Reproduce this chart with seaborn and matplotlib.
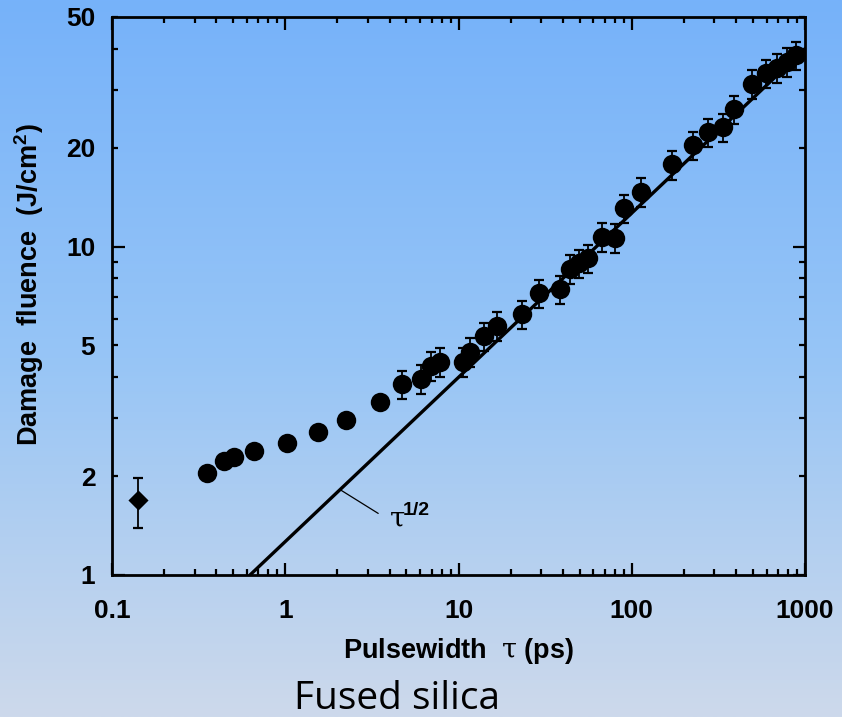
import numpy as np
import pandas as pd
import matplotlib
matplotlib.use("Agg")
import matplotlib.pyplot as plt
import seaborn as sns
from matplotlib.colors import LinearSegmentedColormap
from matplotlib.ticker import FixedLocator, FixedFormatter, NullFormatter

# ---- data ----
tau_ps = [0.355, 0.445, 0.508, 0.658, 1.02, 1.545, 2.23, 3.52, 4.74, 6.07, 6.94, 7.82,
          10.57, 11.65, 14.03, 16.62, 23.2, 29.3, 38.5, 44.3, 49.8, 55.7, 67.1, 80.0,
          90.6, 112.6, 170, 224.8, 276.7, 335, 389, 494, 598, 689, 787, 887]
fluence = [2.04, 2.23, 2.28, 2.39, 2.52, 2.72, 2.96, 3.37, 3.81, 3.95, 4.33, 4.46,
           4.46, 4.79, 5.34, 5.73, 6.22, 7.21, 7.41, 8.55, 8.90, 9.21, 10.72, 10.65,
           13.08, 14.69, 17.78, 20.34, 22.28, 23.08, 26.2, 31.3, 33.7, 35.0, 36.5, 38.2]
fluence_err = [0, 0, 0, 0, 0, 0, 0, 0, 0.38, 0.40, 0.43, 0.45,
               0.45, 0.48, 0.53, 0.57, 0.62, 0.72, 0.74, 0.85, 0.89, 0.92, 1.07, 1.07,
               1.31, 1.47, 1.78, 2.03, 2.23, 2.31, 2.62, 3.13, 3.37, 3.50, 3.65, 3.82]

diamond_tau = [0.1406]
diamond_fluence = [1.69]
diamond_err_low = [0.30]
diamond_err_high = [0.29]

fit_tau = [0.626, 1000]
fit_fluence = [1.0, 40.0]

leader_tau = [2.07, 3.44]
leader_fluence = [1.82, 1.54]

x_major = [0.1, 1, 10, 100, 1000]
x_major_labels = ["0.1", "1", "10", "100", "1000"]
y_labeled = [1, 2, 5, 10, 20, 50]
y_labels = ["1", "2", "5", "10", "20", "50"]

df = pd.DataFrame({"tau": tau_ps, "F": fluence, "err": fluence_err})
fit_df = pd.DataFrame({"tau": fit_tau, "F": fit_fluence})

# ---- style ----
sns.set_style("ticks")
plt.rcParams["font.family"] = ["Liberation Sans", "DejaVu Sans"]
plt.rcParams["mathtext.fontset"] = "custom"
plt.rcParams["mathtext.rm"] = "Liberation Sans:bold"
plt.rcParams["mathtext.bf"] = "Liberation Sans:bold"
plt.rcParams["mathtext.it"] = "DejaVu Serif"
plt.rcParams["text.color"] = "black"
plt.rcParams["axes.labelcolor"] = "black"
plt.rcParams["xtick.color"] = "black"
plt.rcParams["ytick.color"] = "black"

fig = plt.figure(figsize=(8.42, 7.17), dpi=100)

# gradient background
bg = fig.add_axes([0, 0, 1, 1], zorder=-10)
cmap = LinearSegmentedColormap.from_list(
    "bgc", [(0.0, "#76b2fa"), (0.5, "#97c5f6"), (1.0, "#cdd9eb")])
grad = np.linspace(0, 1, 256).reshape(-1, 1)
bg.imshow(grad, aspect="auto", cmap=cmap, extent=[0, 1, 0, 1], origin="upper")
bg.set_axis_off()

ax = fig.add_axes([112/842, 1-575/717, (805-112)/842, (575-17)/717])
ax.set_facecolor("none")
ax.set_xscale("log")
ax.set_yscale("log")

# fit line
sns.lineplot(data=fit_df, x="tau", y="F", ax=ax, color="black", linewidth=2.4,
             zorder=2, legend=False)

# error bars
ax.errorbar(df["tau"], df["F"], yerr=df["err"], fmt="none", ecolor="black",
            elinewidth=1.3, capsize=3.6, capthick=1.6, zorder=3)
ax.errorbar(diamond_tau, diamond_fluence, yerr=[diamond_err_low, diamond_err_high],
            fmt="none", ecolor="black", elinewidth=1.3, capsize=3.6, capthick=1.6,
            zorder=3)

# markers
sns.scatterplot(data=df, x="tau", y="F", ax=ax, color="black", s=196, marker="o",
                edgecolor="black", linewidth=0, zorder=4, legend=False)
sns.scatterplot(x=diamond_tau, y=diamond_fluence, ax=ax, color="black", s=105,
                marker="D", edgecolor="black", linewidth=0, zorder=4, legend=False)

# leader + label
ax.plot(leader_tau, leader_fluence, color="black", linewidth=0.9, zorder=2)
ax.text(4.02, 1.40, "τ", fontfamily="DejaVu Serif", fontsize=20, ha="left",
        va="baseline")
ax.text(4.78, 1.523, "1/2", fontsize=14, fontweight="bold", ha="left", va="baseline")

ax.set_xlim(0.1, 1000)
ax.set_ylim(1, 50)

# ticks
ax.xaxis.set_major_locator(FixedLocator(x_major))
ax.xaxis.set_major_formatter(FixedFormatter(x_major_labels))
x_minor = [m * d for d in [0.1, 1, 10, 100] for m in range(2, 10)]
ax.xaxis.set_minor_locator(FixedLocator(x_minor))
ax.xaxis.set_minor_formatter(NullFormatter())

ax.yaxis.set_major_locator(FixedLocator(y_labeled))
ax.yaxis.set_major_formatter(FixedFormatter(y_labels))
y_minor = [3, 4, 6, 7, 8, 9, 30, 40]
ax.yaxis.set_minor_locator(FixedLocator(y_minor))
ax.yaxis.set_minor_formatter(NullFormatter())

ax.tick_params(axis="both", which="both", direction="in", top=True, right=True,
               width=1.6, color="black")
ax.tick_params(axis="x", which="major", length=9, pad=17)
ax.tick_params(axis="x", which="minor", length=4.5)
ax.tick_params(axis="y", which="major", length=4.5, pad=12)
ax.tick_params(axis="y", which="minor", length=4.5)
# long ticks at decades on y
for loc, tick in zip(y_labeled, ax.yaxis.get_major_ticks()):
    if loc in (1, 10):
        tick.tick1line.set_markersize(9)
        tick.tick2line.set_markersize(9)

for lbl in ax.get_xticklabels() + ax.get_yticklabels():
    lbl.set_fontweight("bold")
    lbl.set_fontsize(19)
    lbl.set_color("black")

for sp in ax.spines.values():
    sp.set_linewidth(2.0)
    sp.set_color("black")

ax.set_xlabel(r"Pulsewidth  $\tau$ (ps)", fontsize=19.5, fontweight="bold",
              labelpad=10)
ax.set_ylabel(r"Damage  fluence  (J/cm$^{2}$)", fontsize=19.5, fontweight="bold")
ax.yaxis.set_label_coords((46 - 112) / 693, (575 - 285) / 558)

fig.text(397/842, 1-709/717, "Fused silica", fontfamily="Open Sans", fontsize=28,
         ha="center", va="baseline", color="black")

fig.savefig("out.png", dpi=100)
